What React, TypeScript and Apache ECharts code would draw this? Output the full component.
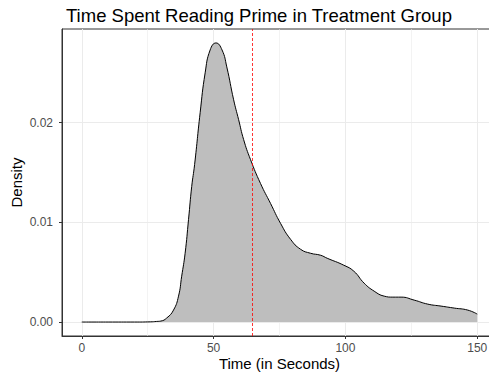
import React, { useEffect, useRef } from "react";
import * as echarts from "echarts";

const timeSeconds = [0, 10, 20, 26, 28.4, 30, 32.2, 34.8, 36.7, 37.9, 39.2, 40.5, 41.7, 42.8, 44.9, 46.8, 48.7, 50.9, 53.2, 55.0, 57.6, 59.5, 61.4, 64.0, 67.8, 71.6, 75.4, 79.2, 83.0, 86.8, 90.6, 93.1, 99.4, 103.2, 107.1, 110.9, 114.7, 118, 121.1, 126.1, 131.2, 136.3, 141.3, 146.4, 150];
const densityValues = [0, 0, 0, 0.00002, 0.00006, 0.0001, 0.0004, 0.0012, 0.0026, 0.0046, 0.0069, 0.0103, 0.0136, 0.0158, 0.021, 0.025, 0.0273, 0.028, 0.0273, 0.0256, 0.0223, 0.0203, 0.0183, 0.0163, 0.0139, 0.0119, 0.0099, 0.0083, 0.0073, 0.0069, 0.0067, 0.0064, 0.0057, 0.0051, 0.0039, 0.0031, 0.0026, 0.0025, 0.0025, 0.0022, 0.0018, 0.0016, 0.0014, 0.0012, 0.0008];
const xTicks = [0, 50, 100, 150];
const xMinor = [25, 75, 125];
const yTicks = [0, 0.01, 0.02];
const yMinor = [0.005, 0.015, 0.025];
const meanTime = 64.6;

const FONT = "Liberation Sans, Arial, sans-serif";

export default function App() {
  const ref = useRef<HTMLDivElement>(null);
  useEffect(() => {
    document.body.style.margin = "0";
    const chart = echarts.init(ref.current!, null, { renderer: "svg" });
    const major = { color: "#EBEBEB", width: 1, type: "solid" };
    const minor = { color: "#EBEBEB", width: 0.6, type: "solid" };
    const gridLines: any[] = [
      ...xTicks.map((v) => ({ xAxis: v, lineStyle: major })),
      ...xMinor.map((v) => ({ xAxis: v, lineStyle: minor })),
      ...yTicks.map((v) => ({ yAxis: v, lineStyle: major })),
      ...yMinor.map((v) => ({ yAxis: v, lineStyle: minor })),
    ];
    const meanStyle = { color: "#FF0000", width: 0.8, type: [3, 2], opacity: 1 };
    chart.setOption({
      animation: false,
      backgroundColor: "#ffffff",
      textStyle: { fontFamily: FONT },
      title: {
        text: "Time Spent Reading Prime in Treatment Group",
        left: 61,
        top: 1,
        textStyle: { fontSize: 18.5, fontWeight: "normal", color: "#000000", fontFamily: FONT },
      },
      grid: {
        left: 62,
        top: 29,
        width: 435,
        height: 307,
        outerBoundsMode: "none",
        containLabel: false,
        show: true,
        borderColor: "#333333",
        borderWidth: 1,
        backgroundColor: "transparent",
      },
      xAxis: {
        type: "value",
        min: -7.5,
        max: 157.5,
        name: "Time (in Seconds)",
        nameLocation: "middle",
        nameGap: 20,
        nameMoveOverlap: false,
        nameTextStyle: { fontSize: 15, color: "#000000", fontFamily: FONT },
        axisLine: { show: true, onZero: false, lineStyle: { color: "#333333", width: 1 } },
        axisTick: { show: true, length: 3, customValues: xTicks, lineStyle: { color: "#333333" } },
        axisLabel: { customValues: xTicks, margin: 6, fontSize: 12, color: "#4D4D4D", fontFamily: FONT },
        splitLine: { show: false },
      },
      yAxis: {
        type: "value",
        min: -0.0014,
        max: 0.0294,
        name: "Density",
        nameLocation: "middle",
        nameGap: 38,
        nameMoveOverlap: false,
        nameRotate: 90,
        nameTextStyle: { fontSize: 15, color: "#000000", fontFamily: FONT },
        axisLine: { show: true, onZero: false, lineStyle: { color: "#333333", width: 1 } },
        axisTick: { show: true, length: 3, customValues: yTicks, lineStyle: { color: "#333333" } },
        axisLabel: {
          customValues: yTicks,
          margin: 9,
          fontSize: 12,
          color: "#4D4D4D",
          fontFamily: FONT,
          formatter: (v: number) => v.toFixed(2),
        },
        splitLine: { show: false },
      },
      series: [
        {
          type: "line",
          z: 1,
          data: [[0, 0]],
          showSymbol: false,
          lineStyle: { width: 0, opacity: 0 },
          silent: true,
          markLine: { z: 0, silent: true, symbol: "none", label: { show: false }, data: gridLines },
        },
        {
          type: "line",
          z: 2,
          data: timeSeconds.map((t, i) => [t, densityValues[i]]),
          smooth: 0.5,
          showSymbol: false,
          lineStyle: { color: "#000000", width: 1 },
          areaStyle: { color: "#BEBEBE", opacity: 1, origin: 0 },
        },
        {
          type: "line",
          z: 3,
          color: "#FF0000",
          data: [[meanTime, 0]],
          showSymbol: false,
          lineStyle: { width: 0, opacity: 0 },
          silent: true,
          markLine: {
            z: 10,
            silent: true,
            symbol: "none",
            label: { show: false },
            data: [{ xAxis: meanTime, lineStyle: meanStyle }],
            lineStyle: meanStyle,
          },
        },
      ],
    });
    return () => chart.dispose();
  }, []);
  return <div ref={ref} style={{ width: 489, height: 379 }} />;
}
